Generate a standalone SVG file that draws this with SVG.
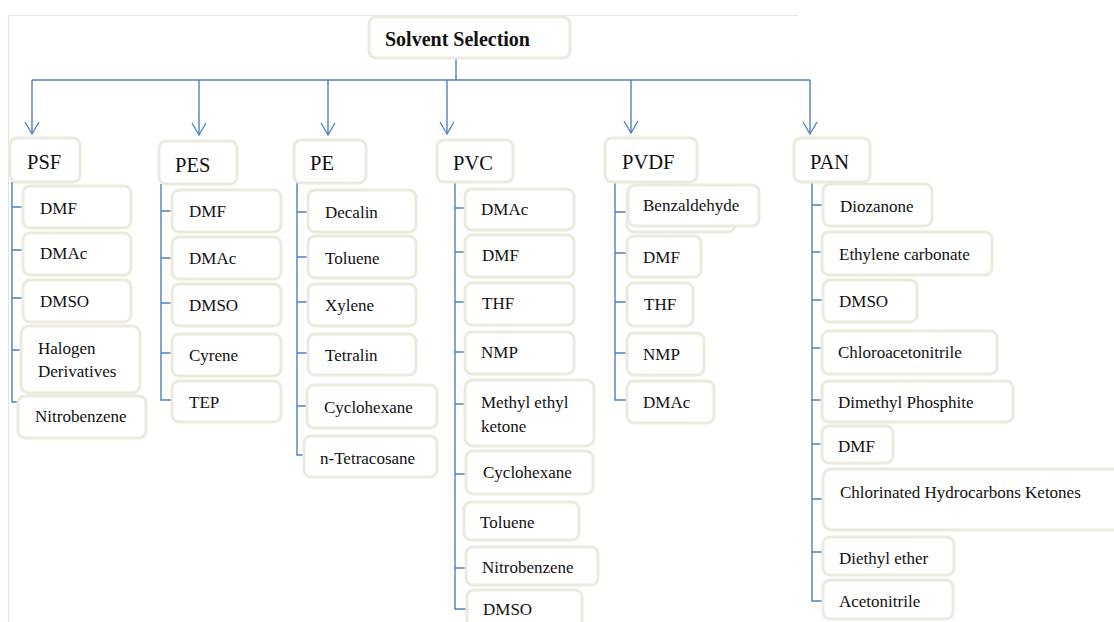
<svg xmlns="http://www.w3.org/2000/svg" width="1114" height="622" viewBox="0 0 1114 622">
<defs>
<marker id="arr" markerWidth="14" markerHeight="16" refX="13" refY="8" orient="auto" markerUnits="userSpaceOnUse" viewBox="0 0 14 16">
<path d="M1,1 L13,8 L1,15" fill="none" stroke="#4f81bd" stroke-width="1.3"/>
</marker>
</defs>
<style>
.box{fill:#fff;stroke:#ece9df;stroke-width:3}
.t{font-family:"Liberation Serif","Times New Roman",serif;font-size:17px;fill:#111}
.h{font-family:"Liberation Serif","Times New Roman",serif;font-size:20.5px;fill:#111}
.root{font-family:"Liberation Serif","Times New Roman",serif;font-size:20px;font-weight:bold;fill:#111}
.c{fill:none;stroke:#4f81bd;stroke-width:1.4}
.frame{fill:none;stroke:#e4e4e4;stroke-width:1.2}
</style>
<rect width="1114" height="622" fill="#fff"/>
<path class="frame" d="M8.5,622 L8.5,15.5 L798,15.5"/>

<g id="connectors">
<path class="c" d="M456,58 L456,80"/>
<path class="c" d="M32,80 L810,80"/>
<path class="c" d="M32,80 L32,134" marker-end="url(#arr)"/>
<path class="c" d="M199,80 L199,135" marker-end="url(#arr)"/>
<path class="c" d="M328,80 L328,135" marker-end="url(#arr)"/>
<path class="c" d="M447,80 L447,134" marker-end="url(#arr)"/>
<path class="c" d="M631,80 L631,133" marker-end="url(#arr)"/>
<path class="c" d="M810,80 L810,134" marker-end="url(#arr)"/>
<path class="c" d="M12,182 L12,402 L20,402 M12,207 L22,207 M12,250 L22,250 M12,298 L22,298 M12,350 L20,350"/>
<path class="c" d="M161,184 L161,400 L172,400 M161,211 L172,211 M161,258 L172,258 M161,303 L172,303 M161,353 L172,353"/>
<path class="c" d="M297,183 L297,455 L304,455 M297,212 L308,212 M297,257 L308,257 M297,302 L308,302 M297,353 L308,353 M297,406 L307,406"/>
<path class="c" d="M455,182 L455,609 L467,609 M455,208 L465,208 M455,252 L465,252 M455,302 L465,302 M455,352 L465,352 M455,404 L465,404 M455,474 L466,474 M455,568 L466,568"/>
<path class="c" d="M615,182 L615,400 L627,400 M615,212 L627,212 M615,253 L627,253 M615,302 L627,302 M615,353 L627,353"/>
<path class="c" d="M812,182 L812,601 L822,601 M812,205 L822,205 M812,252 L822,252 M812,300 L822,300 M812,348 L822,348 M812,400 L822,400 M812,444 L822,444 M812,499 L822,499 M812,552 L822,552"/>
</g>

<g id="root"><rect class="box" x="369" y="17" width="201" height="41" rx="7"/><text class="root" x="385" y="46">Solvent Selection</text></g>

<g id="psf"><rect class="box" x="10" y="138" width="70" height="44" rx="7"/><text class="h" x="27" y="169">PSF</text></g>
<g id="pes"><rect class="box" x="159" y="141" width="78" height="43" rx="7"/><text class="h" x="175" y="172">PES</text></g>
<g id="pe"><rect class="box" x="294" y="140" width="72" height="43" rx="7"/><text class="h" x="310" y="170">PE</text></g>
<g id="pvc"><rect class="box" x="437" y="140" width="76" height="42" rx="7"/><text class="h" x="453" y="170">PVC</text></g>
<g id="pvdf"><rect class="box" x="605" y="138" width="92" height="44" rx="7"/><text class="h" x="622" y="169">PVDF</text></g>
<g id="pan"><rect class="box" x="794" y="138" width="76" height="44" rx="7"/><text class="h" x="810" y="169">PAN</text></g>

<g id="psf-dmf"><rect class="box" x="23" y="186" width="108" height="42" rx="7"/><text class="t" x="40" y="214">DMF</text></g>
<g id="psf-dmac"><rect class="box" x="23" y="233" width="108" height="42" rx="7"/><text class="t" x="40" y="259">DMAc</text></g>
<g id="psf-dmso"><rect class="box" x="23" y="280" width="108" height="42" rx="7"/><text class="t" x="40" y="307">DMSO</text></g>
<g id="psf-halogen"><rect class="box" x="21" y="326" width="119" height="67" rx="8"/><text class="t" x="38" y="354">Halogen</text><text class="t" x="38" y="377">Derivatives</text></g>
<g id="psf-nitro"><rect class="box" x="18" y="396" width="128" height="42" rx="7"/><text class="t" x="35" y="422">Nitrobenzene</text></g>

<g id="pes-dmf"><rect class="box" x="172" y="190" width="109" height="42" rx="7"/><text class="t" x="189" y="217">DMF</text></g>
<g id="pes-dmac"><rect class="box" x="172" y="237" width="109" height="42" rx="7"/><text class="t" x="189" y="264">DMAc</text></g>
<g id="pes-dmso"><rect class="box" x="172" y="284" width="109" height="42" rx="7"/><text class="t" x="189" y="311">DMSO</text></g>
<g id="pes-cyrene"><rect class="box" x="172" y="334" width="109" height="42" rx="7"/><text class="t" x="189" y="361">Cyrene</text></g>
<g id="pes-tep"><rect class="box" x="172" y="381" width="109" height="41" rx="7"/><text class="t" x="189" y="408">TEP</text></g>

<g id="pe-decalin"><rect class="box" x="308" y="190" width="108" height="42" rx="7"/><text class="t" x="325" y="218">Decalin</text></g>
<g id="pe-toluene"><rect class="box" x="308" y="236" width="108" height="42" rx="7"/><text class="t" x="325" y="264">Toluene</text></g>
<g id="pe-xylene"><rect class="box" x="308" y="284" width="108" height="42" rx="7"/><text class="t" x="325" y="311">Xylene</text></g>
<g id="pe-tetralin"><rect class="box" x="308" y="334" width="108" height="41" rx="7"/><text class="t" x="325" y="361">Tetralin</text></g>
<g id="pe-cyclohexane"><rect class="box" x="307" y="385" width="130" height="43" rx="7"/><text class="t" x="324" y="413">Cyclohexane</text></g>
<g id="pe-tetracosane"><rect class="box" x="304" y="436" width="133" height="41" rx="7"/><text class="t" x="320" y="464">n-Tetracosane</text></g>

<g id="pvc-dmac"><rect class="box" x="465" y="189" width="109" height="41" rx="7"/><text class="t" x="481" y="215">DMAc</text></g>
<g id="pvc-dmf"><rect class="box" x="465" y="235" width="109" height="42" rx="7"/><text class="t" x="482" y="261">DMF</text></g>
<g id="pvc-thf"><rect class="box" x="465" y="283" width="109" height="42" rx="7"/><text class="t" x="482" y="309">THF</text></g>
<g id="pvc-nmp"><rect class="box" x="465" y="332" width="109" height="42" rx="7"/><text class="t" x="481" y="358">NMP</text></g>
<g id="pvc-mek"><rect class="box" x="465" y="380" width="129" height="66" rx="8"/><text class="t" x="481" y="408">Methyl ethyl</text><text class="t" x="481" y="432">ketone</text></g>
<g id="pvc-cyclohexane"><rect class="box" x="466" y="451" width="127" height="43" rx="7"/><text class="t" x="483" y="478">Cyclohexane</text></g>
<g id="pvc-toluene"><rect class="box" x="464" y="502" width="115" height="38" rx="7"/><text class="t" x="480" y="528">Toluene</text></g>
<g id="pvc-nitro"><rect class="box" x="466" y="547" width="132" height="38" rx="7"/><text class="t" x="482" y="573">Nitrobenzene</text></g>
<g id="pvc-dmso"><rect class="box" x="467" y="590" width="115" height="40" rx="7"/><text class="t" x="483" y="615">DMSO</text></g>

<g id="pvdf-benz"><rect class="box" x="627" y="190" width="108" height="42" rx="7"/><rect class="box" x="628" y="185" width="131" height="41" rx="7"/><text class="t" x="643" y="211">Benzaldehyde</text></g>
<g id="pvdf-dmf"><rect class="box" x="627" y="236" width="74" height="41" rx="7"/><text class="t" x="643" y="263">DMF</text></g>
<g id="pvdf-thf"><rect class="box" x="627" y="283" width="66" height="43" rx="7"/><text class="t" x="644" y="310">THF</text></g>
<g id="pvdf-nmp"><rect class="box" x="627" y="333" width="77" height="42" rx="7"/><text class="t" x="643" y="360">NMP</text></g>
<g id="pvdf-dmac"><rect class="box" x="627" y="381" width="87" height="42" rx="7"/><text class="t" x="643" y="408">DMAc</text></g>

<g id="pan-dioz"><rect class="box" x="823" y="184" width="109" height="42" rx="7"/><text class="t" x="840" y="212">Diozanone</text></g>
<g id="pan-ec"><rect class="box" x="822" y="232" width="170" height="43" rx="7"/><text class="t" x="839" y="260">Ethylene carbonate</text></g>
<g id="pan-dmso"><rect class="box" x="823" y="280" width="94" height="42" rx="7"/><text class="t" x="839" y="307">DMSO</text></g>
<g id="pan-chloro"><rect class="box" x="822" y="331" width="175" height="43" rx="7"/><text class="t" x="838" y="358">Chloroacetonitrile</text></g>
<g id="pan-dmp"><rect class="box" x="822" y="381" width="191" height="41" rx="7"/><text class="t" x="838" y="408">Dimethyl Phosphite</text></g>
<g id="pan-dmf"><rect class="box" x="822" y="426" width="71" height="37" rx="7"/><text class="t" x="838" y="452">DMF</text></g>
<g id="pan-chc"><rect class="box" x="823" y="469" width="300" height="61" rx="9"/><text class="t" x="840" y="498">Chlorinated Hydrocarbons Ketones</text></g>
<g id="pan-ether"><rect class="box" x="823" y="537" width="131" height="38" rx="7"/><text class="t" x="839" y="564">Diethyl ether</text></g>
<g id="pan-acn"><rect class="box" x="823" y="580" width="130" height="39" rx="7"/><text class="t" x="839" y="607">Acetonitrile</text></g>
</svg>
